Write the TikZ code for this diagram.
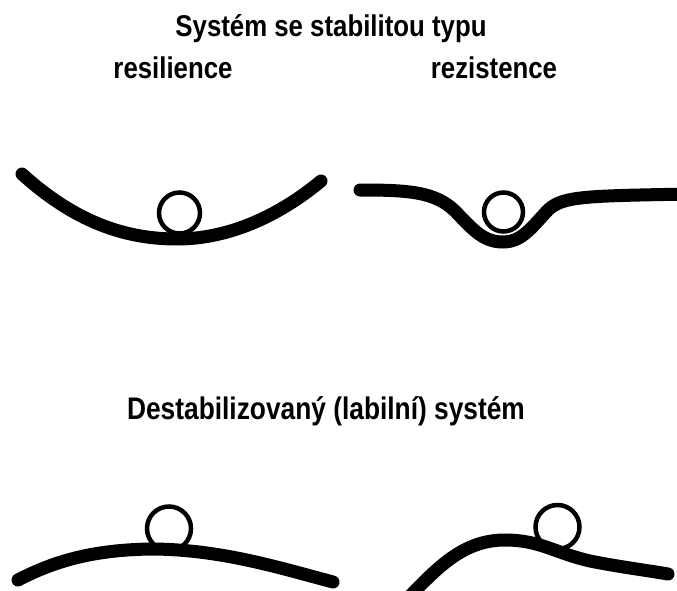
\documentclass[tikz,border=0pt]{standalone}
\usepackage{fontspec}
\setmainfont{Liberation Sans}
\begin{document}
\begin{tikzpicture}[x=1pt,y=-1pt,
  ground/.style={line width=13pt,line cap=round},
  ball/.style={line width=4.5pt},
  lbl/.style={font=\fontsize{30}{30}\selectfont\bfseries,xscale=0.86,transform shape,inner sep=0pt,anchor=base}]
\useasboundingbox (0,0) rectangle (677,591);
% texts
\node[lbl] (title) at (331,37) {Systém se stabilitou typu};
\node[lbl] (res) at (173,79) {resilience};
\node[lbl] (rez) at (494,79) {rezistence};
\node[lbl,xscale=1.02,yscale=1.04] (dest) at (326,419) {Destabilizovaný (labilní) systém};
% resilience
\draw[ground] (22,174) .. controls (75,222) and (125,239) .. (177,239) .. controls (230,239) and (280,215) .. (321,181);
\draw[ball] (179.5,213) circle (20.5);
% rezistence
\draw[ground] (360,190) .. controls (410,190) and (435,192) .. (455,211) .. controls (474,231) and (484,242) .. (503,242) .. controls (522,242) and (532,227) .. (548,210) .. controls (563,196) and (585,196) .. (690,194);
\draw[ball] (503.5,212) circle (19.5);
% labile 1
\draw[ground] (18,580) .. controls (60,558) and (100,550) .. (150,549) .. controls (220,549) and (280,568) .. (333,582);
\draw[ball] (169,528.5) circle (22);
% labile 2
\draw[ground] (410,596) .. controls (440,565) and (465,540) .. (505,540) .. controls (540,540) and (555,553) .. (590,561) .. controls (620,567) and (645,570) .. (668,574);
\draw[ball] (557.5,527) circle (22);
\end{tikzpicture}
\end{document}
